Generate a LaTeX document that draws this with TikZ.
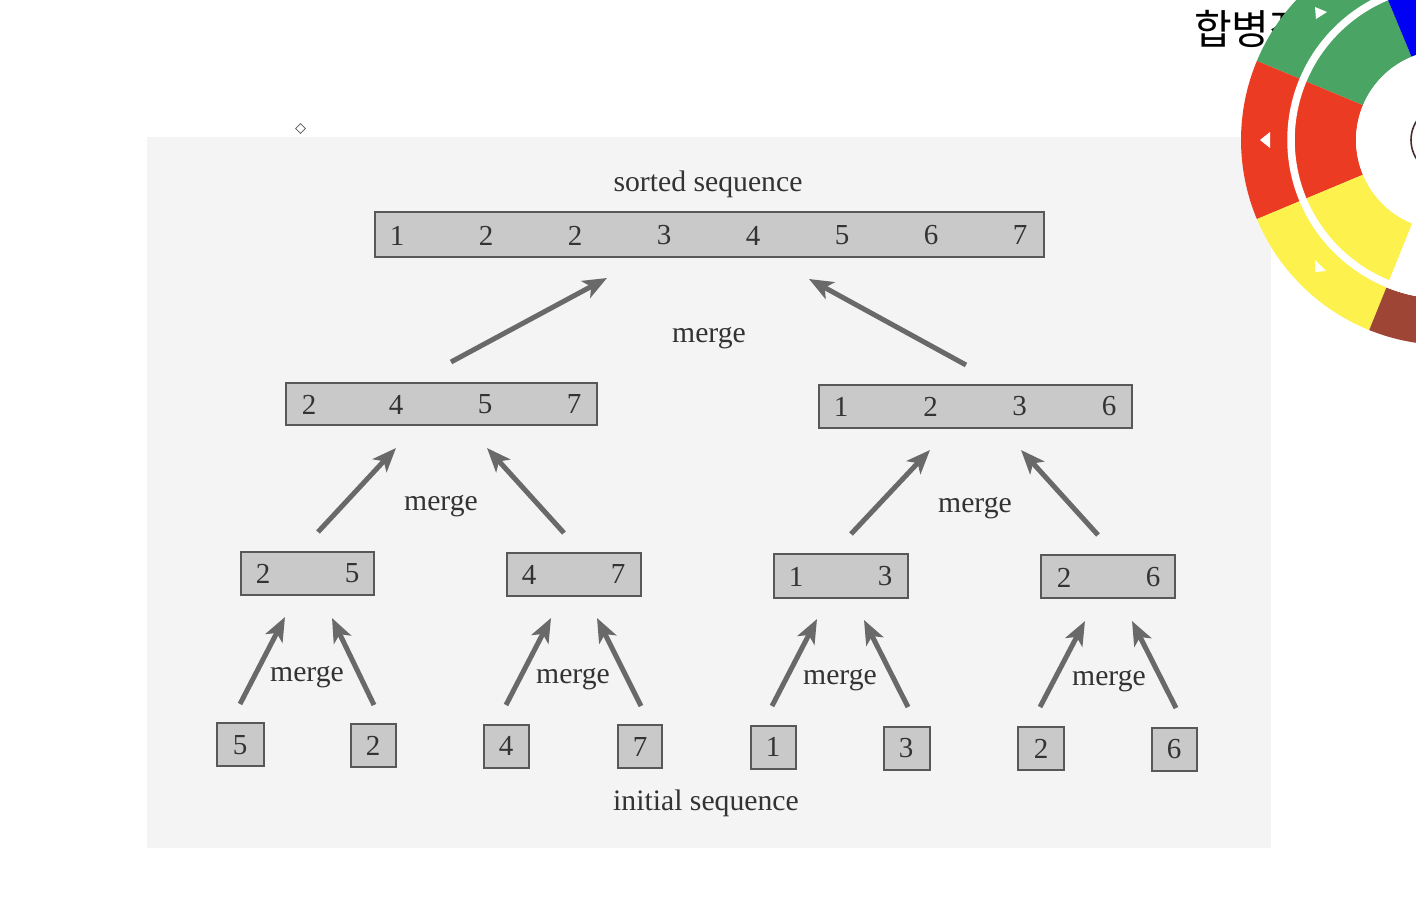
\documentclass[tikz,border=0pt]{standalone}
\usepackage{fontspec}
\setmainfont{Liberation Serif}
\newfontfamily\krfont{Noto Sans CJK KR}
\usetikzlibrary{arrows.meta,shapes.geometric}
\definecolor{pagebg}{HTML}{F4F4F4}
\definecolor{boxfill}{HTML}{C9C9C9}
\definecolor{boxline}{HTML}{585858}
\definecolor{arrowgray}{HTML}{696969}
\definecolor{inktext}{HTML}{333333}
\definecolor{wgreen}{HTML}{4AA564}
\definecolor{wred}{HTML}{EB3C23}
\definecolor{wyellow}{HTML}{FDF14E}
\definecolor{wbrown}{HTML}{9E4535}
\definecolor{wblue}{HTML}{0000F5}
\definecolor{wdark}{HTML}{4A2A2A}
\tikzset{
  cell/.style={draw=boxline,fill=boxfill,line width=1.4pt,inner sep=0pt,outer sep=0pt,anchor=north west},
  digit/.style={font=\fontsize{29}{29}\selectfont,text=inktext,inner sep=0pt},
  caption/.style={font=\fontsize{29.7}{30}\selectfont,text=inktext,inner sep=0pt},
  arr/.style={draw=arrowgray,line width=5pt,-{Stealth[length=24pt,width=19pt,inset=6pt]}},
}
\newcommand{\cellbox}[5]{% name, x1, y1, x2, y2
  \pgfmathsetmacro{\cw}{#4-#2}\pgfmathsetmacro{\ch}{#5-#3}
  \node[cell,minimum width=\cw pt,minimum height=\ch pt] (#1) at (#2,#3) {};}
\newcommand{\link}[6]{% from, dx, up, to, dx, down
  \draw[arr] ([xshift=#2pt,yshift=#3pt]#1.north) -- ([xshift=#5pt,yshift=#6pt]#4.south);}
\newcommand{\sector}[5]{% colour, a, b, R, r
  \fill[#1] (#2:#4) arc[start angle=#2,end angle=#3,radius=#4] -- (#3:#5) arc[start angle=#3,end angle=#2,radius=#5] -- cycle;}
\begin{document}
\begin{tikzpicture}[x=1pt,y=-1pt]
\useasboundingbox (0,0) rectangle (1416,904);
\fill[white] (0,0) rectangle (1416,904);
\fill[pagebg] (147,137) rectangle (1271,848);
\node[diamond,draw=black!65,fill=white,line width=.8pt,inner sep=0pt,minimum size=10pt] (marker) at (300.5,128.5) {};

\node[caption] (capTop) at (708,184.5) {sorted sequence};
\node[caption] (capBot) at (706,803.5) {initial sequence};

\cellbox{T}{375}{212}{1044}{257}
\cellbox{A}{286}{383}{597}{425}
\cellbox{B}{819}{385}{1132}{428}
\cellbox{C}{241}{552}{374}{595}
\cellbox{D}{507}{553}{641}{596}
\cellbox{E}{774}{554}{908}{598}
\cellbox{F}{1041}{555}{1175}{598}
\cellbox{la}{217}{723}{264}{766}
\cellbox{lb}{351}{724}{396}{767}
\cellbox{lc}{484}{725}{529}{768}
\cellbox{ld}{618}{725}{662}{768}
\cellbox{le}{751}{726}{796}{769}
\cellbox{lf}{884}{727}{930}{770}
\cellbox{lg}{1018}{727}{1064}{770}
\cellbox{lh}{1152}{728}{1197}{771}

\foreach \v/\x [count=\i] in {1/397,2/486,2/575,3/664,4/753,5/842,6/931,7/1020}
  \node[digit] (t\i) at (\x,235.5) {\v};
\foreach \v/\x [count=\i] in {2/309,4/396,5/485,7/574}
  \node[digit] (a\i) at (\x,404.5) {\v};
\foreach \v/\x [count=\i] in {1/841,2/930.5,3/1019.5,6/1109}
  \node[digit] (b\i) at (\x,406.5) {\v};
\foreach \v/\x/\y [count=\i] in {2/263/573.5,5/352/573.5,4/529/574.5,7/618/574.5,1/796/576.5,3/885/576.5,2/1064/577.5,6/1153/577.5}
  \node[digit] (m\i) at (\x,\y) {\v};
\foreach \v/\x/\y [count=\i] in {5/240/745,2/373/745.5,4/506/746,7/640/746.5,1/773/747,3/906/748.5,2/1041/748.5,6/1174/749.5}
  \node[digit] (s\i) at (\x,\y) {\v};

\node[caption] (m1c) at (709,338) {merge};
\node[caption] (m2c) at (441,506) {merge};
\node[caption] (m3c) at (975,508) {merge};
\node[caption] (m4c) at (307,677) {merge};
\node[caption] (m5c) at (573,679) {merge};
\node[caption] (m6c) at (840,680) {merge};
\node[caption] (m7c) at (1109,681) {merge};

\link{A}{9.5}{21}{T}{-102.5}{-21}
\link{B}{-9.5}{20}{T}{99.5}{-22}
\link{C}{10.5}{20}{A}{-45.5}{-23}
\link{D}{-10}{20}{A}{45.5}{-23}
\link{E}{10}{20}{B}{-45.5}{-22}
\link{F}{-10}{20}{B}{45.5}{-22}
\link{la}{-.5}{19}{C}{-22.5}{-22}
\link{lb}{.5}{19}{C}{24.5}{-23}
\link{lc}{-.5}{20}{D}{-23}{-22}
\link{ld}{1}{19}{D}{23}{-22}
\link{le}{-1.5}{20}{E}{-24}{-21}
\link{lf}{1}{20}{E}{23}{-22}
\link{lg}{-1}{20}{F}{-23}{-23}
\link{lh}{1.5}{20}{F}{24}{-23}

\node[font=\krfont\fontsize{41}{41}\selectfont,inner sep=0pt,anchor=west,text=black] (title) at (1194,29) {합병정렬};

\begin{scope}
\clip (0,0) rectangle (1416,904);
\begin{scope}[shift={(1446,140)},x=1pt,y=1pt]
  \sector{wgreen}{112.5}{157.3}{205}{90}
  \sector{wred}{157.3}{202.7}{205}{90}
  \sector{wyellow}{202.7}{248}{205}{90}
  \sector{wbrown}{248}{292.5}{205}{159}
  \sector{white}{248}{292.5}{159}{90}
  \sector{wblue}{67.5}{112.5}{205}{90}
  \draw[white,line width=7.5pt] (0,0) circle[radius=155];
  \fill[white] (0,0) circle[radius=90];
  \draw[wdark,line width=1.6pt] (0,0) circle[radius=35];
\end{scope}
\end{scope}
\fill[white] (1315,7) -- (1327,12) -- (1316,19) -- cycle;
\fill[white] (1260,140) -- (1270,132) -- (1270,148) -- cycle;
\fill[white] (1315,260) -- (1326,271) -- (1315,272) -- cycle;
\end{tikzpicture}
\end{document}
